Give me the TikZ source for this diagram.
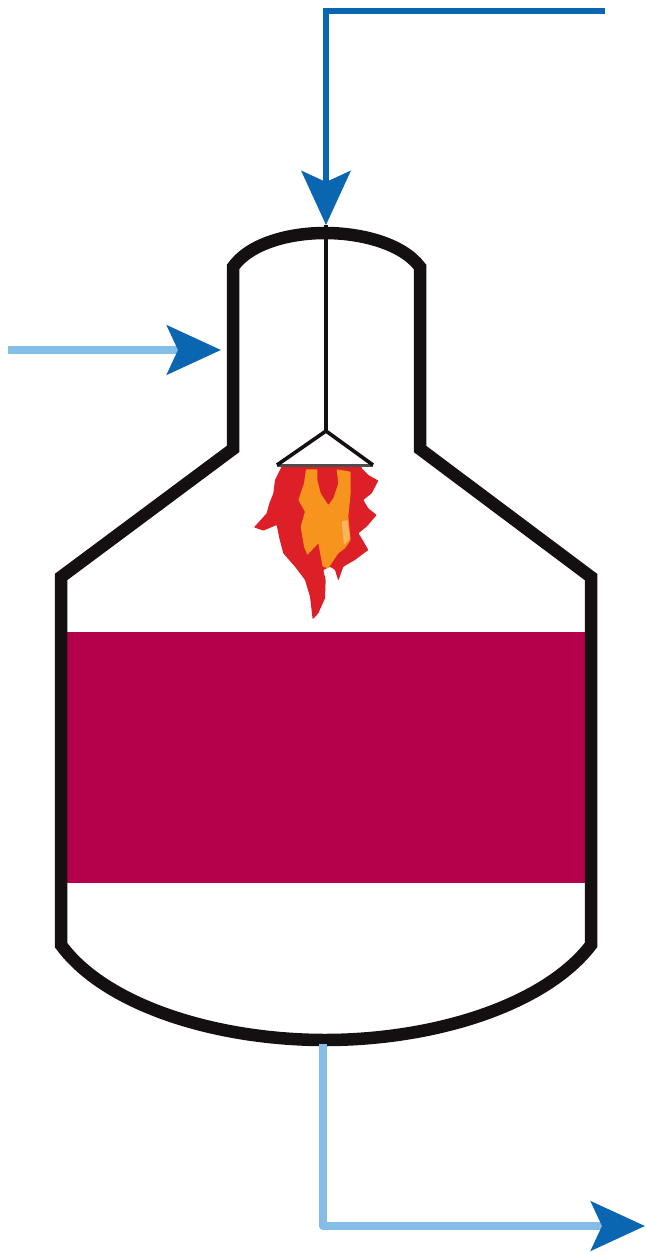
\documentclass[tikz,border=0pt]{standalone}
\usetikzlibrary{arrows.meta}
\definecolor{deepblue}{HTML}{0B66B2}
\definecolor{paleblue}{HTML}{84BDE8}
\definecolor{wine}{HTML}{B5004C}
\definecolor{flamered}{HTML}{DD2027}
\definecolor{flameorange}{HTML}{F7941D}
\definecolor{flamepale}{HTML}{FBB55E}
\definecolor{vesselblack}{HTML}{141011}
\tikzset{
  x=1pt,y=-1pt,
  vessel/.style={draw=vesselblack,line width=12.5pt,line join=miter},
  burner/.style={draw=vesselblack,line width=3.6pt,line join=miter},
  burnerbase/.style={draw=vesselblack!75,line width=3pt},
  feedline/.style={draw=deepblue,line width=6pt,line join=miter},
  paleline/.style={draw=paleblue,line width=8pt,line join=round},
  headtip/.style={-{Stealth[length=54pt,width=49pt,inset=11pt,color=deepblue]}},
}
\begin{document}
\begin{tikzpicture}
\useasboundingbox (0,0) rectangle (645,1252);
\coordinate (topstart) at (605,11);
\coordinate (topbend) at (326,11);
\coordinate (dome) at (326,225);
\coordinate (sidestart) at (8,350);
\coordinate (sidewall) at (221,350);
\coordinate (base) at (323,1044);
\coordinate (basebend) at (323,1226);
\coordinate (outlet) at (645,1226);
\coordinate (apex) at (326,431);
\coordinate (burnerL) at (277,465);
\coordinate (burnerR) at (373,465);
% liquid
\fill[wine] (62,632) rectangle (586,883);
% vessel
\draw[vessel] (233,267) .. controls (250,243) and (290,233) .. (325,233)
  .. controls (360,233) and (402,243) .. (420,267)
  -- (420,449) -- (591,577) -- (591,945)
  .. controls (545,1005) and (435,1040) .. (325,1040)
  .. controls (215,1040) and (105,1005) .. (61,945)
  -- (61,577) -- (233,449) -- cycle;
% flame, in coordinates of a 3x enlargement
\begin{scope}[shift={(230,410)},x=0.3333pt,y=-0.3333pt,rounded corners=0.7pt]
\fill[flamered] (155,170) -- (135,210) -- (130,250) -- (118,280) -- (110,310)
  -- (72,352) -- (100,362) -- (140,345) -- (148,385) -- (160,430) -- (195,470)
  -- (225,510) -- (240,560) -- (248,628) -- (265,610) -- (285,565) -- (287,510)
  -- (280,480) -- (300,470) -- (315,480) -- (325,512) -- (340,470) -- (375,450)
  -- (415,420) -- (395,385) -- (385,370) -- (410,350) -- (440,315) -- (415,295)
  -- (400,270) -- (425,250) -- (445,212) -- (415,195) -- (395,175) -- (395,165) -- cycle;
\fill[flameorange] (228,178) -- (222,220) -- (205,270) -- (225,305) -- (212,350)
  -- (222,410) -- (232,435) -- (265,400) -- (278,470) -- (295,475) -- (325,430)
  -- (345,415) -- (362,390) -- (355,320) -- (362,250) -- (362,185) -- (320,178)
  -- (325,220) -- (310,265) -- (295,285) -- (272,250) -- (262,210) -- (262,178) -- cycle;
\fill[flamepale] (335,335) -- (352,330) -- (360,385) -- (342,405) -- cycle;
\end{scope}
% burner
\draw[burner] (dome) -- (apex);
\draw[burnerbase] (burnerL) -- (burnerR);
\draw[burner] (burnerL) -- (apex) -- (burnerR);
% streams
\draw[feedline,headtip] (topstart) -- (topbend) -- (dome);
\draw[paleline,headtip] (sidestart) -- (sidewall);
\draw[paleline,headtip] (base) -- (basebend) -- (outlet);
\end{tikzpicture}
\end{document}
